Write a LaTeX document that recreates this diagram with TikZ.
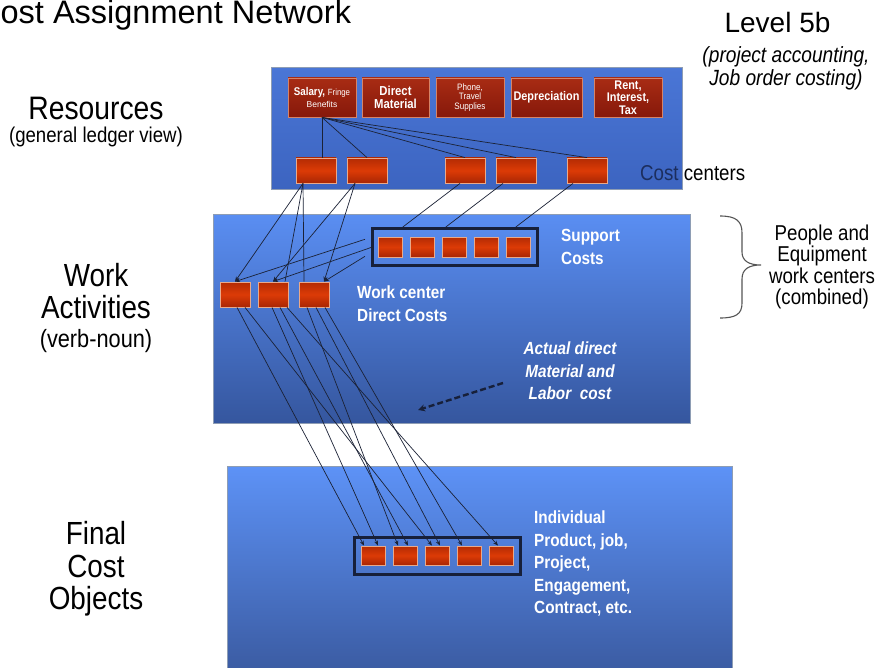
\documentclass[tikz,border=0pt]{standalone}
\usepackage{fontspec}
\setmainfont{Liberation Sans}
\newfontfamily\slimfont{Liberation Sans}[FakeStretch=0.87]
\usepackage{tikz}
\usetikzlibrary{arrows.meta}

\definecolor{panelrim}{HTML}{8E9DB4}
\definecolor{restop}{HTML}{4A76D6}
\definecolor{resbot}{HTML}{3C64C0}
\definecolor{worktop}{HTML}{5A8EF2}
\definecolor{workbot}{HTML}{35569E}
\definecolor{fintop}{HTML}{5D92F6}
\definecolor{finbot}{HTML}{3A5AA0}
\definecolor{cellrim}{HTML}{E9A98A}
\definecolor{celltop}{HTML}{B32B04}
\definecolor{cellmid}{HTML}{DC3B06}
\definecolor{cellbot}{HTML}{A92604}
\definecolor{srctop}{HTML}{A82C14}
\definecolor{srcbot}{HTML}{86180A}
\definecolor{linkcol}{HTML}{1B2236}
\definecolor{framecol}{HTML}{17203A}
\definecolor{costnavy}{HTML}{1C2E5E}
\definecolor{bracecol}{HTML}{555555}

\begin{document}
\begin{tikzpicture}[
    x=1pt, y=-1pt,
    panel/.style={draw=panelrim, line width=1.2pt, anchor=north west, inner sep=0pt},
    cell/.style={draw=cellrim, line width=0.8pt, top color=celltop, bottom color=cellbot, middle color=cellmid, inner sep=0pt},
    source/.style={draw=cellrim!70!srctop, line width=0.8pt, top color=srctop, bottom color=srcbot, minimum height=39pt, inner sep=1pt, align=center, text=white},
    frame/.style={draw=framecol, line width=2.6pt, anchor=north west, inner sep=0pt},
    link/.style={draw=linkcol, line width=0.7pt},
    flow/.style={link, -{Stealth[length=5pt,width=4pt]}},
    bigtext/.style={font=\slimfont\fontsize{32}{31.5}\selectfont, align=center, inner sep=0pt},
    note/.style={font=\slimfont\bfseries\fontsize{17.6}{22.5}\selectfont, text=white, inner sep=0pt}
]
    \useasboundingbox[fill=white] (0,0) rectangle (882,668);

    % Panels
    \node[panel, top color=restop, bottom color=resbot, minimum width=411pt, minimum height=122pt] (respanel) at (271,67) {};
    \node[panel, top color=worktop, bottom color=workbot, minimum width=477pt, minimum height=209pt] (workpanel) at (213,214) {};
    \node[panel, top color=fintop, bottom color=finbot, minimum width=505pt, minimum height=210pt] (finpanel) at (227,466) {};

    % Resources
    \node[source, minimum width=68pt] (sal) at (322,97.5) {\slimfont\bfseries\fontsize{11.2}{9}\selectfont Salary, {\mdseries\fontsize{9}{9}\selectfont Fringe}\\{\fontsize{8.5}{9}\selectfont Benefits}};
    \node[source, minimum width=67pt, font=\slimfont\bfseries\fontsize{13}{12.5}\selectfont] (mat) at (395.5,97.5) {Direct\\Material};
    \node[source, minimum width=68pt, font=\slimfont\fontsize{9.3}{9.6}\selectfont] (phone) at (470,97.5) {Phone,\\Travel\\Supplies};
    \node[source, minimum width=71pt, font=\slimfont\bfseries\fontsize{12.5}{12.5}\selectfont] (dep) at (546.5,97.5) {Depreciation};
    \node[source, minimum width=68pt, font=\slimfont\bfseries\fontsize{12.5}{12.5}\selectfont] (rent) at (628,97.5) {Rent,\\Interest,\\Tax};

    % Cost centers
    \foreach \x [count=\i] in {316,367,465,516,587}
        \node[cell, minimum width=40pt, minimum height=25pt] (cc\i) at (\x,170.5) {};

    % Work activities
    \node[frame, minimum width=165pt, minimum height=37pt] (supframe) at (371,227) {};
    \foreach \i in {1,...,5}
        \node[cell, minimum width=24pt, minimum height=20pt] (sup\i) at ({390+32*(\i-1)},247) {};
    \foreach \x [count=\i] in {235,273,314}
        \node[cell, minimum width=30pt, minimum height=25pt] (wc\i) at (\x,294.5) {};

    % Final cost objects
    \node[frame, minimum width=166pt, minimum height=37pt] (finframe) at (353,536) {};
    \foreach \i in {1,...,5}
        \node[cell, minimum width=24pt, minimum height=19pt] (fin\i) at ({373+32*(\i-1)},555.5) {};

    % Resources to cost centers
    \draw[link] (sal.south) -- (cc1.north -| sal.south);
    \foreach \i in {2,...,5}
        \draw[link] (sal.south) -- (cc\i.north);

    % Cost centers to work centers and support costs
    \draw[flow] ([xshift=-13pt]cc1.south) -- (wc1.north);
    \draw[link] ([xshift=-13pt]cc1.south) -- ([xshift=12pt]wc2.north);
    \draw[link] ([xshift=-13pt]cc1.south) -- ([xshift=-10pt]wc3.north);
    \draw[flow] ([xshift=-12pt]cc2.south) -- (wc2.north);
    \draw[flow] ([xshift=-12pt]cc2.south) -- ([xshift=10pt]wc3.north);
    \draw[link] ([xshift=-5pt]cc3.south) -- ([xshift=-52pt]supframe.north);
    \draw[link] ([xshift=-13pt]cc4.south) -- ([xshift=-9pt]supframe.north);
    \draw[link] ([xshift=-14pt]cc5.south) -- ([xshift=61pt]supframe.north);

    % Support costs to work centers
    \draw[flow] ([xshift=-6pt,yshift=7.5pt]supframe.west) -- (wc1.north);
    \draw[flow] ([xshift=2pt]supframe.west) -- (wc2.north);
    \draw[flow] ([xshift=-6pt,yshift=-9.5pt]supframe.west) -- ([xshift=10pt]wc3.north);

    % Work centers to final cost objects
    \foreach \s/\a/\t/\b in {wc1/2/fin1/-9, wc1/10/fin3/-5, wc2/-1/fin1/5, wc2/7/fin2/3,
                             wc2/14/fin5/-3, wc3/-7/fin2/-7, wc3/2/fin3/3, wc3/11/fin4/-7}
        \draw[flow] ([xshift=\a pt]\s.south) -- ([xshift=\b pt]\t.north);

    % Actual direct cost
    \coordinate (dashfrom) at (503,383);
    \coordinate (dashto) at (418,410);
    \draw[draw=framecol, line width=2.4pt, dash pattern=on 6pt off 3pt, -{Stealth[length=7pt,width=7pt]}] (dashfrom) -- (dashto);

    % Brace
    \draw[bracecol, line width=1.1pt] (720,216) .. controls (736,216) and (742,221) .. (742,233)
        -- (742,252) .. controls (742,261) and (749,265) .. (761,265)
        .. controls (749,265) and (742,269) .. (742,279)
        -- (742,303) .. controls (742,314) and (736,318) .. (720,318);

    % Labels
    \node[anchor=base west, font=\fontsize{32.5}{36}\selectfont, inner sep=0pt] (title) at (-23,24) {Cost Assignment Network};
    \node[anchor=base, font=\fontsize{28}{30}\selectfont, inner sep=0pt] (level) at (777.5,33) {Level 5b};
    \node[anchor=north, align=center, font=\slimfont\itshape\fontsize{22}{23}\selectfont, inner sep=0pt] (levelnote) at (786,46) {(project accounting,\\Job order costing)};

    \node[anchor=base, font=\slimfont\fontsize{32.5}{34}\selectfont, inner sep=0pt] (reslbl) at (96,120) {Resources};
    \node[anchor=base, font=\slimfont\fontsize{21.4}{24}\selectfont, inner sep=0pt] (resnote) at (96,143) {(general ledger view)};
    \node[bigtext, anchor=north] (worklbl) at (96,263.6) {Work\\Activities};
    \node[anchor=base, font=\slimfont\fontsize{25}{28}\selectfont, inner sep=0pt] (worknote) at (96,347) {(verb-noun)};
    \node[bigtext, anchor=north, font=\slimfont\fontsize{32}{32.5}\selectfont] (finlbl) at (96,521.6) {Final\\Cost\\Objects};

    \node[anchor=base west, font=\slimfont\fontsize{21.5}{24}\selectfont, inner sep=0pt] (cclbl) at (640,181) {\textcolor{costnavy}{Cost} centers};
    \node[anchor=north, align=center, font=\slimfont\fontsize{21.5}{21.5}\selectfont, inner sep=0pt] (wclbl) at (822,224.3) {People and\\Equipment\\work centers\\(combined)};

    \node[note, anchor=north west, align=left] (suplbl) at (561,229.2) {Support\\Costs};
    \node[note, anchor=north west, align=left] (wcnote) at (357,286) {Work center\\Direct Costs};
    \node[note, anchor=north, align=center, font=\slimfont\bfseries\itshape\fontsize{17.6}{22.5}\selectfont] (actual) at (570,342) {Actual direct\\Material and\\Labor\ \ cost};
    \node[note, anchor=north west, align=left] (finnote) at (534,511) {Individual\\Product, job,\\Project,\\Engagement,\\Contract, etc.};
\end{tikzpicture}
\end{document}
